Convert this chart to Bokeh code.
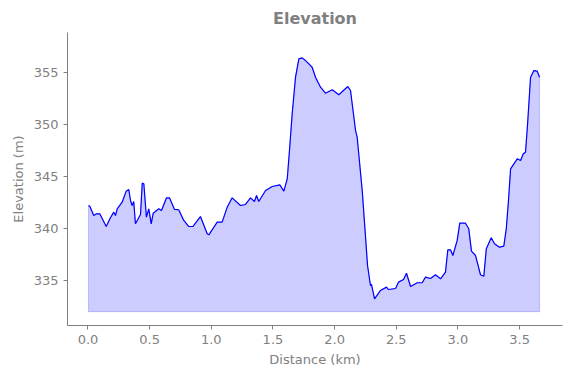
from bokeh.plotting import figure
from bokeh.models import FixedTicker, NumeralTickFormatter, Range1d
from bokeh.embed import file_html
from bokeh.resources import INLINE

distance_km = [0.004, 0.015, 0.047, 0.069, 0.096, 0.148, 0.182, 0.209, 0.223, 0.237,
               0.277, 0.310, 0.331, 0.345, 0.358, 0.371, 0.385, 0.426, 0.440, 0.453,
               0.474, 0.493, 0.513, 0.529, 0.574, 0.596, 0.637, 0.661, 0.702, 0.736,
               0.777, 0.818, 0.850, 0.912, 0.967, 0.980, 1.048, 1.088, 1.129, 1.169,
               1.237, 1.277, 1.318, 1.350, 1.367, 1.385, 1.440, 1.494, 1.556, 1.588,
               1.616, 1.634, 1.656, 1.683, 1.710, 1.737, 1.764, 1.791, 1.818, 1.845,
               1.886, 1.926, 1.981, 2.034, 2.107, 2.129, 2.170, 2.183, 2.224, 2.251,
               2.267, 2.291, 2.299, 2.324, 2.372, 2.421, 2.437, 2.494, 2.518, 2.559,
               2.583, 2.616, 2.670, 2.710, 2.737, 2.778, 2.818, 2.859, 2.899, 2.918,
               2.940, 2.959, 2.994, 3.015, 3.061, 3.088, 3.110, 3.143, 3.183, 3.210,
               3.230, 3.270, 3.297, 3.337, 3.372, 3.392, 3.410, 3.427, 3.481, 3.508,
               3.530, 3.548, 3.564, 3.589, 3.616, 3.643, 3.662]
elevation_m = [342.21, 342.14, 341.25, 341.41, 341.41, 340.19, 341.03, 341.57, 341.25, 341.89,
               342.53, 343.59, 343.75, 342.69, 342.21, 342.60, 340.45, 341.35, 344.36, 344.30,
               341.09, 341.89, 340.45, 341.47, 341.89, 341.73, 342.95, 342.95, 341.83, 341.80,
               340.77, 340.19, 340.19, 341.15, 339.49, 339.39, 340.61, 340.61, 342.05, 342.95,
               342.21, 342.31, 342.95, 342.60, 343.17, 342.60, 343.65, 344.04, 344.20, 343.59,
               344.78, 347.50, 351.03, 354.55, 356.32, 356.41, 356.15, 355.84, 355.51, 354.55,
               353.59, 353.01, 353.34, 352.86, 353.65, 353.27, 349.42, 348.78, 343.65, 339.16,
               336.44, 334.52, 334.62, 333.24, 334.04, 334.36, 334.13, 334.23, 334.84, 335.10,
               335.70, 334.42, 334.78, 334.78, 335.32, 335.19, 335.55, 335.16, 335.80, 337.95,
               337.95, 337.40, 338.85, 340.51, 340.51, 339.97, 337.82, 337.40, 335.55, 335.41,
               338.05, 339.11, 338.53, 338.20, 338.30, 339.97, 342.69, 345.74, 346.70, 346.54,
               347.18, 347.34, 349.90, 354.55, 355.19, 355.13, 354.55]
fill_base = 332.0
x_ticks = [0.0, 0.5, 1.0, 1.5, 2.0, 2.5, 3.0, 3.5]
y_ticks = [335, 340, 345, 350, 355]

GRAY = "#808080"
FONT = "DejaVu Sans"

p = figure(width=571, height=378, output_backend="svg", toolbar_location=None,
           title="Elevation",
           x_range=Range1d(-0.166, 3.848), y_range=Range1d(330.67, 358.85),
           min_border_left=67, min_border_right=9, min_border_top=32, min_border_bottom=53)

p.patch(distance_km + distance_km[::-1], elevation_m + [fill_base] * len(elevation_m),
        fill_color="blue", fill_alpha=0.2, line_color="blue", line_alpha=0.2, line_width=1)
p.line(distance_km, elevation_m, line_color="blue", line_width=1.2)

p.title.text_font = FONT
p.title.text_font_size = "16px"
p.title.text_font_style = "bold"
p.title.text_color = GRAY
p.title.align = "center"

p.xaxis.axis_label = "Distance (km)"
p.yaxis.axis_label = "Elevation (m)"
p.xaxis.ticker = FixedTicker(ticks=x_ticks)
p.yaxis.ticker = FixedTicker(ticks=y_ticks)
p.xaxis.formatter = NumeralTickFormatter(format="0.0")
p.yaxis.formatter = NumeralTickFormatter(format="0")
for ax in (p.xaxis, p.yaxis):
    ax.axis_label_text_font = FONT
    ax.axis_label_text_font_size = "13px"
    ax.axis_label_text_font_style = "normal"
    ax.axis_label_text_color = GRAY
    ax.major_label_text_font = FONT
    ax.major_label_text_font_size = "13px"
    ax.major_label_text_color = GRAY
    ax.axis_line_color = GRAY
    ax.major_tick_line_color = GRAY
    ax.major_tick_out = 4
    ax.major_tick_in = 0
    ax.minor_tick_line_color = None
p.grid.visible = False
p.outline_line_color = None

open("out.html", "w").write(file_html(p, INLINE))
